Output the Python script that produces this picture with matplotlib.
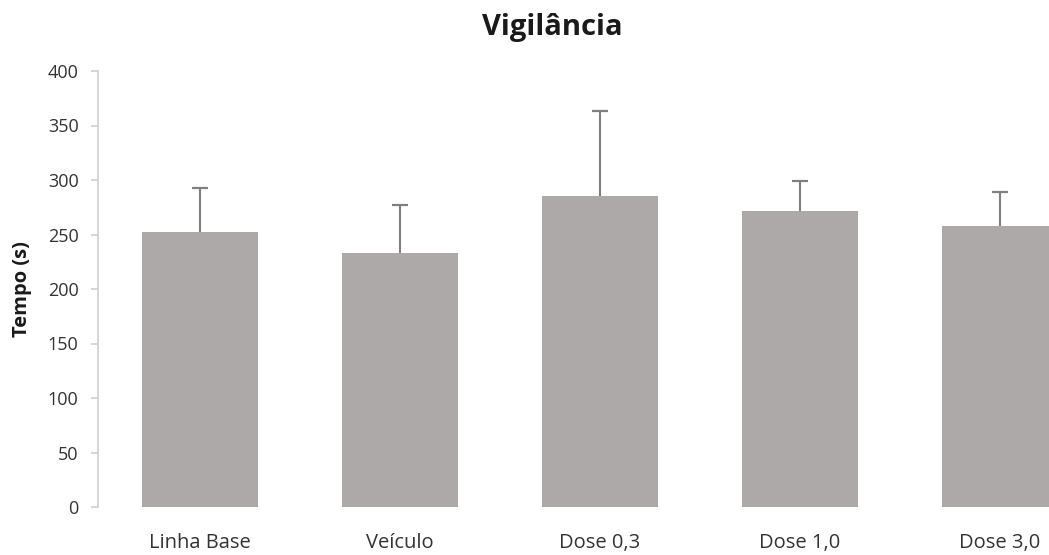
import matplotlib
matplotlib.use("Agg")
import matplotlib.pyplot as plt
import numpy as np

plt.rcParams['font.family'] = ['Open Sans', 'DejaVu Sans']

categories = ["Linha Base", "Veículo", "Dose 0,3", "Dose 1,0", "Dose 3,0"]
means = [252, 233, 285, 272, 258]
errors = [41, 44, 78, 27, 31]
y_ticks = [0, 50, 100, 150, 200, 250, 300, 350, 400]

bar_color = "#ada9a8"
err_color = "#808080"
axis_color = "#d0d0d0"
text_color = "#333333"

fig = plt.figure(figsize=(10.49, 5.55), dpi=100)
ax = fig.add_axes([98 / 1049, 48 / 555, 1 - 98 / 1049, (507 - 71) / 555])

x = np.arange(len(categories))
# error whiskers sit behind the bars so only the upper half shows
ax.errorbar(x, means, yerr=errors, fmt="none",
            ecolor=err_color, elinewidth=1.5, capsize=5.5, capthick=1.6, zorder=1)
ax.bar(x, means, width=0.58, color=bar_color, edgecolor="none", zorder=2)

ax.set_xlim(-0.51, 4.245)
ax.set_ylim(0, 400)
ax.set_yticks(y_ticks)
ax.set_yticklabels([str(v) for v in y_ticks])
ax.set_xticks(x)
ax.set_xticklabels(categories)

for side in ["top", "right", "bottom"]:
    ax.spines[side].set_visible(False)
ax.spines["left"].set_color(axis_color)
ax.spines["left"].set_linewidth(1.2)

ax.tick_params(axis="y", direction="out", length=5, width=1.2, color=axis_color,
               labelsize=13, labelcolor=text_color, pad=9)
ax.tick_params(axis="x", length=0, labelsize=14.5, labelcolor=text_color, pad=19)

fig.text(22 / 1049, 1 - 289 / 555, "Tempo (s)", rotation=90, ha="center", va="center",
         fontsize=14.5, fontweight="bold", color="#1a1a1a")
fig.text(552 / 1049, 1 - 28 / 555, "Vigilância", ha="center", va="center",
         fontsize=21, fontweight="bold", color="#1a1a1a")

fig.savefig("out.png", dpi=100)
